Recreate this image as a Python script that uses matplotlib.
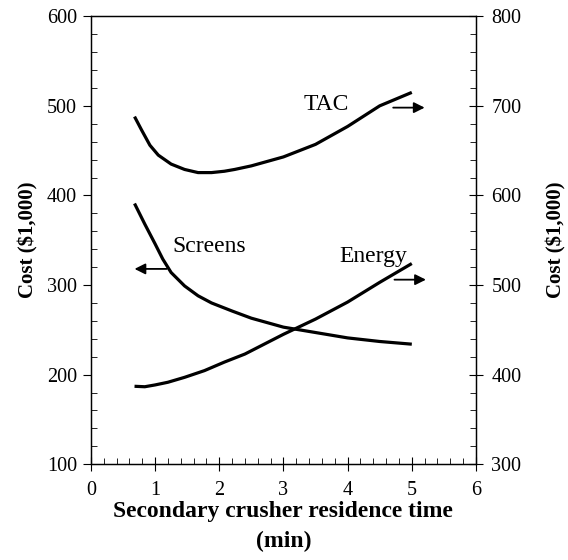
import matplotlib
matplotlib.use("Agg")
import matplotlib.pyplot as plt
from matplotlib.ticker import MultipleLocator

plt.rcParams['font.family'] = ['Liberation Serif', 'DejaVu Serif']

# Data
tac_x = [0.68, 0.79, 0.92, 1.05, 1.25, 1.46, 1.67, 1.88, 2.08, 2.24, 2.5, 3.0, 3.5, 4.0, 4.5, 5.0]
tac_y = [688, 673, 656, 645, 635, 629, 625.5, 625.5, 627, 629, 633, 643, 657, 677, 700, 715]  # right axis

screens_x = [0.68, 0.84, 1.0, 1.12, 1.25, 1.46, 1.67, 1.88, 2.2, 2.5, 3.0, 3.5, 4.0, 4.5, 5.0]
screens_y = [391, 368, 346, 329, 314, 299, 288, 280, 271, 263, 253, 247, 241, 237, 234]  # left axis

energy_x = [0.68, 0.84, 1.0, 1.2, 1.46, 1.77, 2.08, 2.4, 2.7, 3.0, 3.5, 4.0, 4.5, 5.0]
energy_y = [387, 386.5, 388.5, 391.5, 397, 404.5, 414, 423, 434, 445, 462, 481, 503, 524]  # right axis

fig = plt.figure(figsize=(5.68, 5.60), dpi=100)
ax = fig.add_axes([0.160, 0.171, 0.678, 0.800])
ax2 = ax.twinx()

lw = 2.3
ax.plot(screens_x, screens_y, color='black', lw=lw, solid_capstyle='butt')
ax2.plot(tac_x, tac_y, color='black', lw=lw, solid_capstyle='butt')
ax2.plot(energy_x, energy_y, color='black', lw=lw, solid_capstyle='butt')

ax.set_xlim(0, 6)
ax.set_ylim(100, 600)
ax2.set_ylim(300, 800)

ax.xaxis.set_major_locator(MultipleLocator(1))
ax.xaxis.set_minor_locator(MultipleLocator(0.2))
ax.yaxis.set_major_locator(MultipleLocator(100))
ax.yaxis.set_minor_locator(MultipleLocator(20))
ax2.yaxis.set_major_locator(MultipleLocator(100))
ax2.yaxis.set_minor_locator(MultipleLocator(20))

fs = 14.5
ax.tick_params(axis='x', which='major', direction='inout', length=10, width=0.8,
               labelsize=fs, pad=7)
ax.tick_params(axis='x', which='minor', direction='in', length=4, width=0.6)
ax.tick_params(axis='y', which='major', direction='out', length=6, width=0.8,
               labelsize=fs, pad=4)
ax.tick_params(axis='y', which='minor', direction='in', length=4, width=0.6)
ax2.tick_params(axis='y', which='major', direction='inout', length=10, width=0.8,
                labelsize=fs, pad=6)
ax2.tick_params(axis='y', which='minor', direction='in', length=4, width=0.6)

for a in (ax, ax2):
    for s in a.spines.values():
        s.set_linewidth(0.9)

ax.set_xlabel('Secondary crusher residence time\n(min)', labelpad=1,
              linespacing=1.55, fontsize=17, fontweight='bold')
ax.set_ylabel('Cost ($1,000)', labelpad=6, fontsize=15, fontweight='bold')
ax2.set_ylabel('Cost ($1,000)', labelpad=18, fontsize=15, fontweight='bold')

# Annotations
tfs = 17
ax.text(3.67, 502, 'TAC', fontsize=tfs, ha='center', va='center')
ax.text(1.85, 343, 'Screens', fontsize=tfs, ha='center', va='center')
ax.text(4.40, 332, 'Energy', fontsize=tfs, ha='center', va='center')

arr = dict(arrowstyle='-|>', color='black', lw=1.3, mutation_scale=16,
           shrinkA=0, shrinkB=0)
ax.annotate('', xy=(5.20, 498), xytext=(4.71, 498), arrowprops=arr)
ax.annotate('', xy=(0.68, 318), xytext=(1.18, 318), arrowprops=arr)
ax.annotate('', xy=(5.22, 306), xytext=(4.73, 306), arrowprops=arr)

fig.savefig('out.png', dpi=100)
